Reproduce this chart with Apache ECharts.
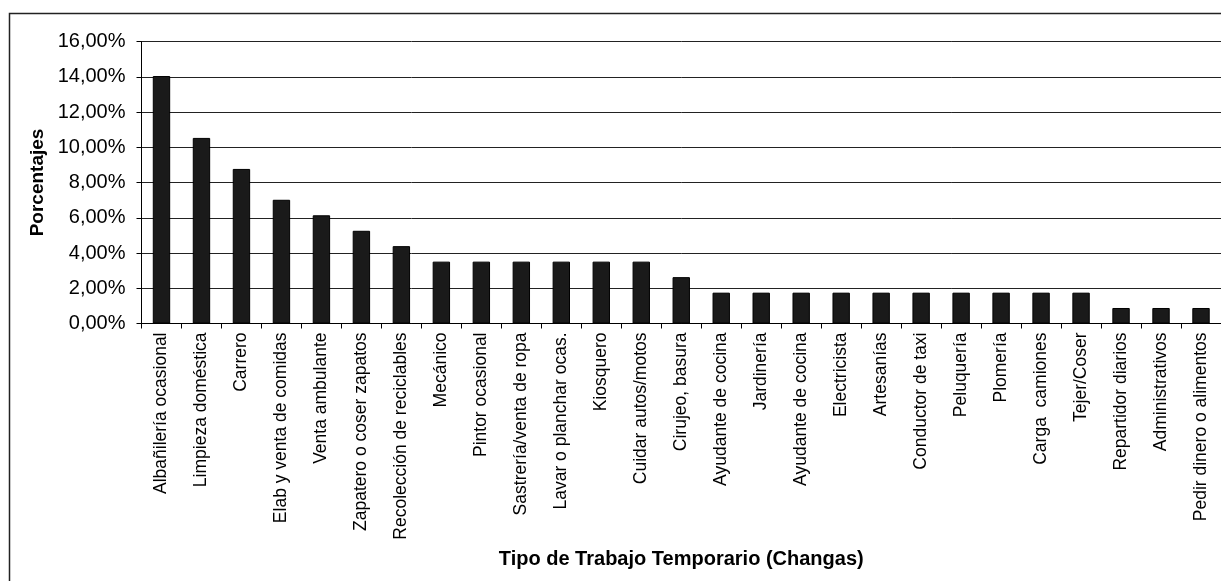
<!DOCTYPE html>
<html>
<head>
<meta charset="utf-8">
<script src="https://cdn.jsdelivr.net/npm/echarts@6/dist/echarts.min.js"></script>
<style>
html,body{margin:0;padding:0;background:#fff;}
#chart{width:1221px;height:581px;}
</style>
</head>
<body>
<div id="chart"></div>
<script>
const categories = [
  "Albañilería ocasional","Limpieza doméstica","Carrero","Elab y venta de comidas",
  "Venta ambulante","Zapatero o coser zapatos","Recolección de reciclables","Mecánico",
  "Pintor ocasional","Sastrería/venta de ropa","Lavar o planchar ocas.","Kiosquero",
  "Cuidar autos/motos","Cirujeo, basura","Ayudante de cocina","Jardinería",
  "Ayudante de cocina","Electricista","Artesanías","Conductor de taxi",
  "Peluquería","Plomería","Carga  camiones","Tejer/Coser",
  "Repartidor diarios","Administrativos","Pedir dinero o alimentos"
];
const porcentajes = [
  14.04, 10.53, 8.77, 7.02,
  6.14, 5.26, 4.39, 3.51,
  3.51, 3.51, 3.51, 3.51,
  3.51, 2.63, 1.75, 1.75,
  1.75, 1.75, 1.75, 1.75,
  1.75, 1.75, 1.75, 1.75,
  0.88, 0.88, 0.88
];
const yTitle = "Porcentajes";
const xTitle = "Tipo de Trabajo Temporario (Changas)";

const FONT = "'Liberation Sans', Arial, sans-serif";
const chart = echarts.init(document.getElementById('chart'), null, {renderer:'canvas'});
chart.setOption({
  animation: false,
  backgroundColor: '#fff',
  textStyle: { fontFamily: FONT, color: '#000' },
  graphic: [{
    type: 'rect', silent: true, z: -1,
    shape: { x: 9.5, y: 13.5, width: 1240, height: 600 },
    style: { fill: 'none', stroke: '#222', lineWidth: 1.5 }
  }],
  grid: { left: 141.5, top: 41.5, right: 0, bottom: 257.5, containLabel: false },
  xAxis: {
    type: 'category',
    data: categories,
    boundaryGap: true,
    name: xTitle,
    nameLocation: 'middle',
    nameGap: 226,
    nameTextStyle: { fontFamily: FONT, fontSize: 20, fontWeight: 'bold', color: '#000' },
    axisLine: { lineStyle: { color: '#000', width: 1 } },
    axisTick: { show: true, length: 5, alignWithLabel: false, lineStyle: { color: '#000' } },
    axisLabel: {
      interval: 0, rotate: 90, margin: 9,
      fontFamily: FONT, fontSize: 17.5, color: '#000'
    },
    splitLine: { show: false }
  },
  yAxis: {
    type: 'value',
    min: 0, max: 16, interval: 2,
    name: yTitle,
    nameLocation: 'middle',
    nameRotate: 90,
    nameGap: 94,
    nameTextStyle: { fontFamily: FONT, fontSize: 19, fontWeight: 'bold', color: '#000' },
    axisLine: { show: true, lineStyle: { color: '#000', width: 1 } },
    axisTick: { show: true, length: 5, lineStyle: { color: '#000' } },
    axisLabel: {
      margin: 16, fontFamily: FONT, fontSize: 20, color: '#000',
      formatter: v => v.toFixed(2).replace('.', ',') + '%'
    },
    splitLine: { show: true, lineStyle: { color: '#222', width: 1 } }
  },
  series: [{
    type: 'bar',
    data: porcentajes,
    barWidth: '43.5%',
    itemStyle: { color: '#1a1a1a', borderColor: '#000', borderWidth: 1 }
  }]
});
</script>
</body>
</html>
